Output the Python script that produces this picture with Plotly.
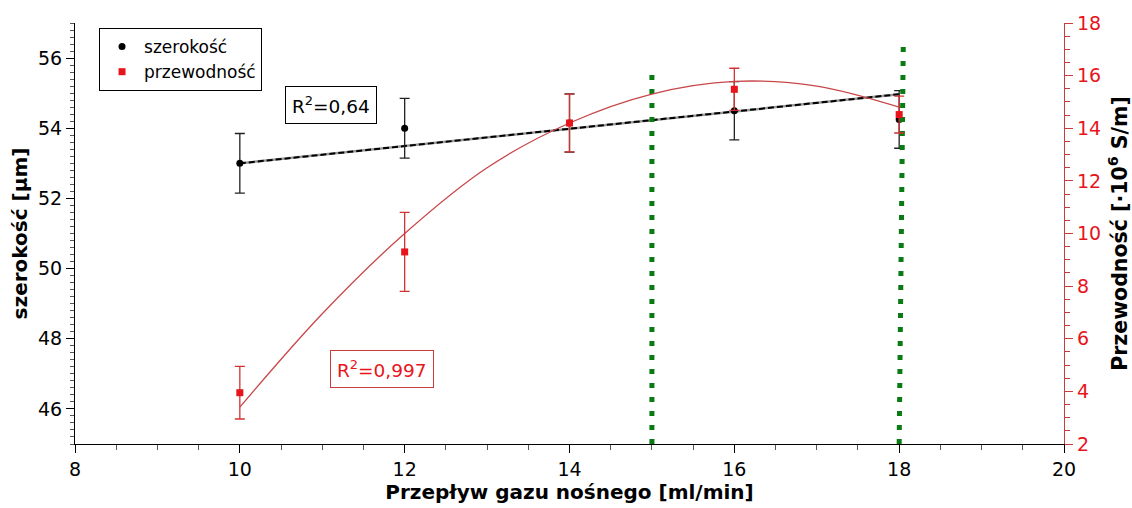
import plotly.graph_objects as go

# ---- data ----
flow = [10, 12, 14, 16, 18]
szerokosc = [53.0, 54.0, 54.15, 54.5, 54.25]
szerokosc_err = [0.85, 0.85, 0.83, 0.83, 0.82]
przewodnosc = [3.95, 9.3, 14.2, 15.48, 14.52]
przewodnosc_err = [1.0, 1.5, 1.1, 0.8, 0.7]

# linear trend of width (end points)
fit_szer_x = [10, 18]
fit_szer_y = [53.0, 54.97]
# polynomial trend of conductivity
fit_prz_x = [10, 11, 12, 13, 14, 15, 16, 17, 18]
fit_prz_y = [3.4, 6.95, 10.0, 12.5, 14.2, 15.3, 15.78, 15.6, 14.8]

# green dotted range markers (x at bottom, x at top, top value on right axis)
range_x_bottom = [15.0, 18.0]
range_x_top = [15.0, 18.05]
range_top = [16.2, 17.2]
range_bottom = 2.0

FONT = "DejaVu Sans"
RED = "#e8141b"
DARKRED = "#c83c3c"
GREEN = "#0a7a12"

fig = go.Figure()

# green dotted lines
for xb, xt, yt in zip(range_x_bottom, range_x_top, range_top):
    fig.add_trace(go.Scatter(x=[xb, xt], y=[range_bottom, yt], yaxis="y2", mode="lines",
                             line=dict(color=GREEN, width=5, dash="5px,9px"),
                             showlegend=False, hoverinfo="skip"))

# width fit line (gray under black dashes)
fig.add_trace(go.Scatter(x=fit_szer_x, y=fit_szer_y, mode="lines",
                         line=dict(color="#9a9a9a", width=2.5), showlegend=False, hoverinfo="skip"))
fig.add_trace(go.Scatter(x=fit_szer_x, y=fit_szer_y, mode="lines",
                         line=dict(color="black", width=2, dash="6px,3px"), showlegend=False, hoverinfo="skip"))

# conductivity fit curve
fig.add_trace(go.Scatter(x=fit_prz_x, y=fit_prz_y, yaxis="y2", mode="lines",
                         line=dict(color="#c8474a", width=1.3, shape="spline"),
                         showlegend=False, hoverinfo="skip"))

# data with error bars
fig.add_trace(go.Scatter(x=flow, y=szerokosc, mode="markers", name="szerokość",
                         marker=dict(color="black", size=7, symbol="circle"),
                         error_y=dict(type="data", array=szerokosc_err, color="#222222",
                                      thickness=1.3, width=5),
                         showlegend=False))
fig.add_trace(go.Scatter(x=flow, y=przewodnosc, yaxis="y2", mode="markers", name="przewodność",
                         marker=dict(color=RED, size=7, symbol="square"),
                         error_y=dict(type="data", array=przewodnosc_err, color="#d23232",
                                      thickness=1.3, width=5),
                         showlegend=False))

# legend entries
fig.add_trace(go.Scatter(x=[None], y=[None], mode="markers", name="szerokość",
                         marker=dict(color="black", size=7, symbol="circle")))
fig.add_trace(go.Scatter(x=[None], y=[None], mode="markers", name="przewodność",
                         marker=dict(color=RED, size=7, symbol="square")))

fig.update_layout(
    width=1132, height=508,
    margin=dict(l=75, r=68, t=23, b=64),
    paper_bgcolor="white", plot_bgcolor="white",
    font=dict(family=FONT, size=17, color="black"),
    showlegend=True,
    legend=dict(x=0.0243, y=0.988, xanchor="left", yanchor="top",
                bordercolor="black", borderwidth=1, bgcolor="white",
                font=dict(family=FONT, size=17), itemwidth=34, tracegroupgap=0),
    xaxis=dict(range=[8, 20], dtick=2, tick0=8, showgrid=False, zeroline=False, automargin=False,
               showline=True, linecolor="black", linewidth=1.2,
               ticks="outside", ticklen=8, tickcolor="black",
               minor=dict(dtick=0.5, ticks="outside", ticklen=5, tickcolor="#555555"),
               tickfont=dict(size=19),
               title=dict(text="<b>Przepływ gazu nośnego [ml/min]</b>", font=dict(size=20), standoff=4)),
    yaxis=dict(range=[45, 57], dtick=2, tick0=46, showgrid=False, zeroline=False, automargin=False,
               showline=True, linecolor="black", linewidth=1.2,
               ticks="outside", ticklen=8, tickcolor="black",
               minor=dict(dtick=0.2, ticks="outside", ticklen=4, tickcolor="#555555"),
               tickfont=dict(size=19),
               title=dict(text="<b>szerokość [µm]</b>", font=dict(size=20), standoff=4)),
    yaxis2=dict(range=[2, 18], dtick=2, tick0=2, overlaying="y", side="right", anchor="x",
                showgrid=False, zeroline=False, automargin=False,
                showline=True, linecolor=DARKRED, linewidth=1.2,
                ticks="outside", ticklen=8, tickcolor=DARKRED,
                minor=dict(dtick=0.5, ticks="outside", ticklen=5, tickcolor=DARKRED),
                tickfont=dict(size=19, color=RED),
                title=dict(text="<b>Przewodność [·10<sup>6</sup> S/m]</b>", font=dict(size=20.5, color="black"),
                           standoff=12)),
    annotations=[
        dict(x=11.11, y=54.66, xref="x", yref="y", text="R<sup>2</sup>=0,64", showarrow=False,
             font=dict(size=18.5, color="black"), bordercolor="black", borderwidth=1, borderpad=6,
             bgcolor="white"),
        dict(x=11.72, y=4.85, xref="x", yref="y2", text="R<sup>2</sup>=0,997", showarrow=False,
             font=dict(size=18.5, color=RED), bordercolor=DARKRED, borderwidth=1, borderpad=6,
             bgcolor="white"),
    ],
)

fig.write_html("out.html")
